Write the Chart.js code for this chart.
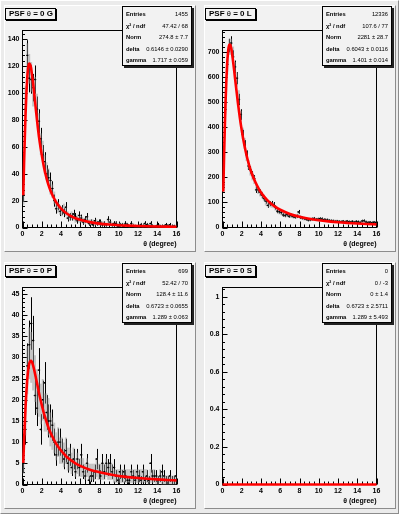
<!DOCTYPE html>
<html><head><meta charset="utf-8">
<script src="https://cdn.jsdelivr.net/npm/chart.js@4/dist/chart.umd.min.js"></script>
<style>
html,body{margin:0;padding:0;}
body{width:399px;height:514px;position:relative;background:#ebebeb;overflow:hidden;font-family:"Liberation Sans",Arial,sans-serif;}
.outer{position:absolute;left:0;top:0;width:399px;height:514px;box-sizing:border-box;border-top:1px solid #fff;border-left:1px solid #fff;border-right:1px solid #8c8c8c;border-bottom:1px solid #8c8c8c;}
.pad{position:absolute;width:192px;height:247px;background:#f2f2f2;}
.pad canvas{position:absolute;left:0;top:0;}
.pb{position:absolute;left:0;top:0;width:192px;height:247px;box-sizing:border-box;border-top:1px solid #fff;border-left:1px solid #fff;border-right:1px solid #8c8c8c;border-bottom:1px solid #8c8c8c;pointer-events:none;}
.title{position:absolute;left:1px;top:3px;width:51px;height:12px;box-sizing:border-box;border:1px solid #000;background:#f2f2f2;box-shadow:1px 1px 0 #000;font-weight:bold;font-size:8px;line-height:10px;padding-left:3px;white-space:nowrap;color:#000;}
.title .th{font-weight:normal;font-size:7.5px;}
.stats{position:absolute;left:118px;top:1px;width:70px;height:60px;box-sizing:border-box;border:1px solid #000;background:#f2f2f2;box-shadow:2px 2px 0 #222;color:#000;}
.stats .row{position:absolute;left:3px;right:3px;height:8px;font-size:5.8px;line-height:8px;white-space:nowrap;}
.stats .l{position:absolute;left:0;top:0;font-weight:bold;}
.stats .v{position:absolute;right:0;top:0;}
</style>
</head><body>
<div class="outer"></div>
<script>
// ---------- data ----------
const binCenters = [0.1,0.3,0.5,0.7,0.9,1.1,1.3,1.5,1.7,1.9,2.1,2.3,2.5,2.7,2.9,3.1,3.3,3.5,3.7,3.9,
 4.1,4.3,4.5,4.7,4.9,5.1,5.3,5.5,5.7,5.9,6.1,6.3,6.5,6.7,6.9,7.1,7.3,7.5,7.7,7.9,
 8.1,8.3,8.5,8.7,8.9,9.1,9.3,9.5,9.7,9.9,10.1,10.3,10.5,10.7,10.9,11.1,11.3,11.5,11.7,11.9,
 12.1,12.3,12.5,12.7,12.9,13.1,13.3,13.5,13.7,13.9,14.1,14.3,14.5,14.7,14.9,15.1,15.3,15.5,15.7,15.9];
const binWidth = 0.2;

const titles = ['PSF θ = 0 G','PSF θ = 0 L','PSF θ = 0 P','PSF θ = 0 S'];
const statLabels = ['Entries','χ² / ndf','Norm','delta','gamma'];
const statsG = ['1455','47.42 / 68','274.8 ± 7.7','0.6146 ± 0.0290','1.717 ± 0.059'];
const statsL = ['12336','107.6 / 77','2281 ± 28.7','0.6043 ± 0.0116','1.401 ± 0.014'];
const statsP = ['699','52.42 / 70','128.4 ± 11.6','0.6723 ± 0.0655','1.289 ± 0.063'];
const statsS = ['0','0 / -3','0 ± 1.4','0.6723 ± 2.5711','1.289 ± 5.493'];

const xTitle = 'θ (degree)';
const xMax = 16, xStep = 2, xMinor = 0.5;
const yMaxs = [146.5, 785, 46.5, 1.05];
const ySteps = [20, 100, 5, 0.2];
const yMinors = [4, 20, 1, 0.04];

// G
const valG = [24,88,128,111,110,104,110,88,79,66, 54,49,40,37,35,29,20,14,17,12,
 13,11,15,7,8,8,10,8,5,9, 7,4,6,8,3,4,2,5,3,4, 4,2,3,2,6,4,2,3,3,1, 2,2,1,3,2,0,3,1,1,0,
 1,2,1,3,2,1,3,1,0,1, 2,1,0,1,2,1,2,0,1,0];
const errG = [4.9,9.4,11.3,10.5,10.5,10.2,10.5,9.4,8.9,8.1, 7.3,7.0,6.3,6.1,5.9,5.4,4.5,3.7,4.1,3.5,
 3.6,3.3,3.9,2.6,2.8,2.8,3.2,2.8,2.2,3.0, 2.6,2.0,2.4,2.8,1.7,2.0,1.4,2.2,1.7,2.0,
 2.0,1.4,1.7,1.4,2.4,2.0,1.4,1.7,1.7,1.0, 1.4,1.4,1.0,1.7,1.4,0,1.7,1.0,1.0,0,
 1.0,1.4,1.0,1.7,1.4,1.0,1.7,1.0,0,1.0, 1.4,1.0,0,1.0,1.4,1.0,1.4,0,1.0,0];
const grayValG = [22,95,125,118,112,100,102,90,76,62, 57,47,42,38,30,27,22,17,15,13,
 12,14,12,9,8,9,8,6,7,6, 6,5,5,6,4,4,4,3,4,3, 3,3,3,2,4,3,2,2,3,2, 2,2,2,2,2,1,2,2,1,1,
 1,2,1,2,2,1,2,1,1,1, 1,1,1,1,1,1,1,1,1,1];
const grayErrG = [5,10,12,11,11,10,10,9.5,9,8, 7.5,7,6.5,6,5.5,5,4.7,4,3.9,3.6,
 3.5,3.7,3.5,3,2.8,3,2.8,2.4,2.6,2.4, 2.4,2.2,2.2,2.4,2,2,2,1.7,2,1.7,
 1.7,1.7,1.7,1.4,2,1.7,1.4,1.4,1.7,1.4, 1.4,1.4,1.4,1.4,1.4,1,1.4,1.4,1,1,
 1,1.4,1,1.4,1.4,1,1.4,1,1,1, 1,1,1,1,1,1,1,1,1,1];

// L
const valL = [170,470,650,725,735,680,640,595,510,450, 370,330,290,245,230,210,195,150,150,140,
 128,115,105,88,95,96,92,80,65,63, 60,50,48,52,45,48,44,42,45,62,
 40,38,36,33,30,31,34,36,32,33, 35,34,31,30,30,28,27,26,24,25,
 24,23,25,22,25,23,22,24,21,24, 23,20,26,27,22,20,21,19,21,20];
const errL = [13,21.7,25.5,26.9,27.1,26.1,25.3,24.4,22.6,21.2, 19.2,18.2,17,15.7,15.2,14.5,14,12.2,12.2,11.8,
 11.3,10.7,10.2,9.4,9.7,9.8,9.6,8.9,8.1,7.9, 7.7,7.1,6.9,7.2,6.7,6.9,6.6,6.5,6.7,7.9,
 6.3,6.2,6,5.7,5.5,5.6,5.8,6,5.7,5.7, 5.9,5.8,5.6,5.5,5.5,5.3,5.2,5.1,4.9,5,
 4.9,4.8,5,4.7,5,4.8,4.7,4.9,4.6,4.9, 4.8,4.5,5.1,5.2,4.7,4.5,4.6,4.4,4.6,4.5];
const grayValL = [160,480,640,720,720,690,630,590,520,440, 375,335,285,250,225,205,190,160,148,138,
 130,118,100,92,93,90,88,78,68,62, 58,52,50,50,46,46,45,43,44,55,
 41,38,35,34,31,32,33,34,32,32, 33,33,31,30,29,28,27,26,25,25,
 24,24,24,23,24,23,22,23,22,23, 22,21,24,25,22,21,21,20,21,20];
const grayErrL = [16,26,31,32,32,31,30,29,27,25, 23,22,20,19,18,17,17,15,14.6,14.1,
 13.7,13,12,11.5,11.6,11.4,11.3,10.6,9.9,9.4, 9.1,8.7,8.5,8.5,8.1,8.1,8,7.9,8,8.9,
 7.7,7.4,7.1,7,6.7,6.8,6.9,7,6.8,6.8, 6.9,6.9,6.7,6.6,6.5,6.3,6.2,6.1,6,6,
 5.9,5.9,5.9,5.8,5.9,5.8,5.6,5.8,5.6,5.8, 5.6,5.5,5.9,6,5.6,5.5,5.5,5.4,5.5,5.4];

// P
const valP = [5,13,28,33,38,34,21,18,27,13, 20,24,17,15,15,14,10,7,10,10,
 8,6,8,5,7,4,6,3,6,4, 7,3,2,5,1,2,2,3,6,3, 2,5,3,5,4,5,3,4,2,1, 3,2,3,2,1,1,3,2,1,3,
 2,1,3,1,2,1,5,2,2,2, 1,2,3,2,1,1,2,1,1,2];
const errP = [2.2,3.6,5.3,5.7,6.2,5.8,4.6,4.2,5.2,3.6, 4.5,4.9,4.1,3.9,3.9,3.7,3.2,2.6,3.2,3.2,
 2.8,2.4,2.8,2.2,2.6,2,2.4,1.7,2.4,2, 2.6,1.7,1.4,2.2,1,1.4,1.4,1.7,2.4,1.7,
 1.4,2.2,1.7,2.2,2,2.2,1.7,2,1.4,1, 1.7,1.4,1.7,1.4,1,1,1.7,1.4,1,1.7,
 1.4,1,1.7,1,1.4,1,2.2,1.4,1.4,1.4, 1,1.4,1.7,1.4,1,1,1.4,1,1,1.4];
const grayValP = [5,16,27,31,30,28,25,22,21,19, 20,17,17,16,13,12,11,9,10,8,
 8,7,8,6,6,5,6,4,5,4, 4,4,3,4,3,3,3,3,4,3, 3,3,3,4,3,3,3,2,2,2, 2,2,2,2,2,2,2,2,2,2,
 2,2,2,2,2,1,2,2,2,1, 1,2,1,1,1,1,1,1,1,1];
const grayErrP = [2.5,4.4,5.7,6.1,6,5.8,5.5,5.2,5,4.8, 4.9,4.5,4.5,4.4,4,3.8,3.6,3.3,3.5,3.1,
 3.1,2.9,3.1,2.7,2.7,2.5,2.7,2.2,2.5,2.2, 2.2,2.2,1.9,2.2,1.9,1.9,1.9,1.9,2.2,1.9,
 1.9,1.9,1.9,2.2,1.9,1.9,1.9,1.6,1.6,1.6, 1.6,1.6,1.6,1.6,1.6,1.6,1.6,1.6,1.6,1.6,
 1.6,1.6,1.6,1.6,1.6,1.1,1.6,1.6,1.6,1.1, 1.1,1.6,1.1,1.1,1.1,1.1,1.1,1.1,1.1,1.1];

// S (empty)
const valS = [];
const errS = [];

// fit curves
const fitX = [0.08,0.16,0.24,0.32,0.4,0.48,0.56,0.64,0.72,0.8,0.88,0.96,1.04,1.2,1.4,1.6,1.8,2.0,2.2,2.4,
 2.6,2.8,3.0,3.4,3.8,4.2,4.6,5.0,5.5,6,7,8,9,10,11,12,13,14,15,16];
const fitG = [24,47,67,85,99,110,117,121,122,121,119,115,111,101,87,74,63,54,46,39.5,
 34,29.6,25.8,20,15.8,12.7,10.4,8.6,6.9,5.7,4.0,2.9,2.2,1.7,1.36,1.1,0.91,0.76,0.64,0.55];
const fitL = [143,278,399,503,586,649,692,718,729,728,718,702,680,630,562,497,438,387,343,305,
 272,244,220,182,152,129,111,96.6,82,70.7,54.1,42.8,34.7,28.8,24.4,20.8,18.1,15.8,14.0,12.5];
const fitP = [5.1,10,14.4,18.4,21.7,24.4,26.4,27.8,28.7,29.1,29.2,29.0,28.6,27.2,25.1,22.9,20.7,18.8,17.0,15.5,
 14.1,12.8,11.8,10.0,8.6,7.5,6.5,5.8,5.0,4.4,3.5,2.9,2.4,2.0,1.75,1.53,1.35,1.2,1.08,0.97];
const fitSX = [0,16];
const fitS = [0,0];

// ---------- layout ----------
const pads = [
  {left:4, top:5, title:titles[0], stats:statsG, v:valG, e:errG, gv:grayValG, ge:grayErrG, fx:fitX, fy:fitG},
  {left:204, top:5, title:titles[1], stats:statsL, v:valL, e:errL, gv:grayValL, ge:grayErrL, fx:fitX, fy:fitL},
  {left:4, top:262, title:titles[2], stats:statsP, v:valP, e:errP, gv:grayValP, ge:grayErrP, fx:fitX, fy:fitP},
  {left:204, top:262, title:titles[3], stats:statsS, v:valS, e:errS, gv:[], ge:[], fx:fitSX, fy:fitS}
];
const PW = 192, PH = 247;
const FL = 18.5, FR = 172.5, FT = 25.5, FB = 222.5;

const FONT = '"Liberation Sans", Arial, sans-serif';

const errPlugin = {
  id: 'errbars',
  beforeDatasetsDraw(chart) {
    const {ctx, chartArea: a, scales: {x, y}} = chart;
    ctx.save();
    ctx.beginPath(); ctx.rect(a.left, a.top, a.right - a.left, a.bottom - a.top); ctx.clip();
    chart.data.datasets.forEach(ds => {
      if (ds.kind === 'gray') {
        ctx.fillStyle = 'rgba(150,150,150,0.5)';
        ds.data.forEach(p => {
          const x0 = x.getPixelForValue(p.x - binWidth / 2), x1 = x.getPixelForValue(p.x + binWidth / 2);
          const y0 = y.getPixelForValue(p.y + p.e), y1 = y.getPixelForValue(p.y - p.e);
          ctx.fillRect(x0, y0, x1 - x0, Math.max(1, y1 - y0));
        });
      }
      if (ds.kind === 'data') {
        ctx.strokeStyle = '#000'; ctx.lineWidth = 1;
        ds.data.forEach(p => {
          const px = Math.round(x.getPixelForValue(p.x)) + 0.5;
          const py = y.getPixelForValue(p.y);
          const y0 = y.getPixelForValue(p.y + p.e), y1 = y.getPixelForValue(p.y - p.e);
          const x0 = x.getPixelForValue(p.x - binWidth / 2), x1 = x.getPixelForValue(p.x + binWidth / 2);
          ctx.beginPath();
          ctx.moveTo(px, y0); ctx.lineTo(px, y1);
          ctx.moveTo(x0 - 0.3, py); ctx.lineTo(x1 + 0.3, py);
          ctx.stroke();
        });
      }
    });
    ctx.restore();
  }
};

const framePlugin = {
  id: 'frameTicks',
  beforeDatasetsDraw(chart) {
    const {ctx, chartArea: a, scales: {x, y}} = chart;
    const o = chart.options.plugins.frameTicks;
    ctx.save();
    ctx.strokeStyle = '#000'; ctx.lineWidth = 1;
    ctx.strokeRect(a.left, a.top, a.right - a.left, a.bottom - a.top);
    ctx.beginPath();
    const nx = Math.round(xMax / xMinor);
    for (let i = 0; i <= nx; i++) {
      const v = i * xMinor;
      const major = Math.abs(v / xStep - Math.round(v / xStep)) < 1e-6;
      const px = Math.round(x.getPixelForValue(v)) + 0.5;
      ctx.moveTo(px, a.bottom); ctx.lineTo(px, a.bottom - (major ? 6 : 3));
    }
    const ny = Math.floor(o.yMax / o.yMinor + 1e-6);
    for (let i = 0; i <= ny; i++) {
      const v = i * o.yMinor;
      const major = Math.abs(v / o.yStep - Math.round(v / o.yStep)) < 1e-6;
      const py = Math.round(y.getPixelForValue(v)) + 0.5;
      ctx.moveTo(a.left, py); ctx.lineTo(a.left + (major ? 5 : 2.5), py);
    }
    ctx.stroke();
    ctx.restore();
  }
};

const fmt = v => String(Number(Number(v).toFixed(4)));

pads.forEach((p, k) => {
  const div = document.createElement('div');
  div.className = 'pad';
  div.style.left = p.left + 'px'; div.style.top = p.top + 'px';
  const cv = document.createElement('canvas');
  cv.width = PW; cv.height = PH;
  cv.style.width = PW + 'px'; cv.style.height = PH + 'px';
  div.appendChild(cv);
  const pb = document.createElement('div'); pb.className = 'pb'; div.appendChild(pb);

  const t = document.createElement('div'); t.className = 'title';
  const parts = p.title.split('θ');
  t.appendChild(document.createTextNode(parts[0]));
  const th = document.createElement('span'); th.className = 'th'; th.textContent = 'θ'; t.appendChild(th);
  t.appendChild(document.createTextNode(parts[1]));
  div.appendChild(t);

  const s = document.createElement('div'); s.className = 'stats';
  statLabels.forEach((lab, i) => {
    const r = document.createElement('div'); r.className = 'row';
    r.style.top = (3 + i * 11.6) + 'px';
    const l = document.createElement('span'); l.className = 'l'; l.textContent = lab;
    const v = document.createElement('span'); v.className = 'v'; v.textContent = p.stats[i];
    r.appendChild(l); r.appendChild(v); s.appendChild(r);
  });
  div.appendChild(s);
  document.body.appendChild(div);

  const dataPts = [], grayPts = [];
  p.v.forEach((v, i) => { if (v > 0) dataPts.push({x: binCenters[i], y: v, e: p.e[i]}); });
  p.gv.forEach((v, i) => { if (v > 0) grayPts.push({x: binCenters[i], y: v, e: p.ge[i]}); });
  const fitPts = p.fx.map((x, i) => ({x, y: p.fy[i]}));

  new Chart(cv, {
    type: 'scatter',
    data: {datasets: [
      {kind: 'fit', data: fitPts, showLine: true, borderColor: '#ff0000', borderWidth: 2.6, pointRadius: 0,
       cubicInterpolationMode: 'monotone', fill: false, order: 0, clip: k === 3 ? false : 2},
      {kind: 'data', data: dataPts, pointRadius: 1, pointStyle: 'rect', backgroundColor: '#000', borderWidth: 0, order: 1},
      {kind: 'gray', data: grayPts, pointRadius: 0, order: 2}
    ]},
    options: {
      responsive: false, animation: false, devicePixelRatio: 1,
      layout: {padding: {top: FT, right: PW - FR, left: 0, bottom: 0}},
      plugins: {legend: {display: false}, tooltip: {enabled: false},
        frameTicks: {yMax: yMaxs[k], yStep: ySteps[k], yMinor: yMinors[k]}},
      scales: {
        x: {type: 'linear', min: 0, max: xMax,
          ticks: {stepSize: xStep, includeBounds: false, autoSkip: false, maxRotation: 0, padding: 2,
            color: '#000', font: {family: FONT, size: 7, weight: 'bold'}, callback: fmt},
          grid: {display: false, drawTicks: false}, border: {display: false},
          title: {display: true, text: xTitle, align: 'end', color: '#000',
            font: {family: FONT, size: 7, weight: 'bold'}, padding: {top: 0, bottom: 3.5}},
          afterFit(sc) { sc.height = PH - FB; }
        },
        y: {type: 'linear', min: 0, max: yMaxs[k],
          ticks: {stepSize: ySteps[k], includeBounds: false, autoSkip: false, padding: 3,
            color: '#000', font: {family: FONT, size: 7, weight: 'bold'}, callback: fmt},
          grid: {display: false, drawTicks: false}, border: {display: false},
          afterFit(sc) { sc.width = FL; }
        }
      }
    },
    plugins: [framePlugin, errPlugin]
  });
});
</script>
</body></html>
